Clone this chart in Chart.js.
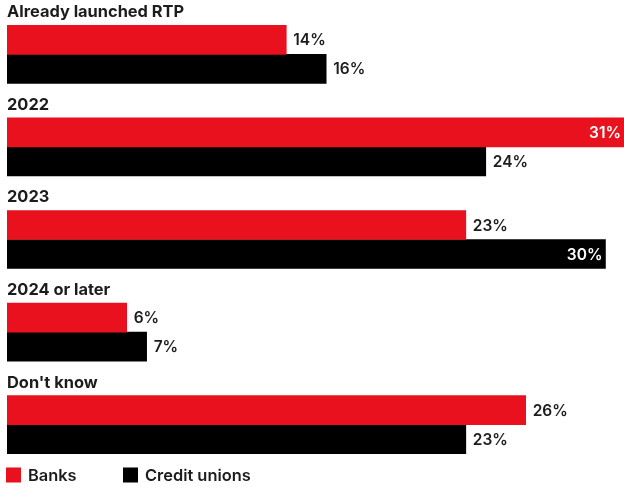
<!DOCTYPE html>
<html><head><meta charset="utf-8">
<script src="https://cdn.jsdelivr.net/npm/chart.js@4.4.0/dist/chart.umd.min.js"></script>
<style>html,body{margin:0;padding:0;background:#fff;}#wrap{width:624px;height:488px;position:relative;}</style>
</head><body><div id="wrap"><canvas id="c"></canvas></div>
<script>
const categories = ["Already launched RTP", "2022", "2023", "2024 or later", "Don't know"];
const banks = [14, 31, 23, 6, 26];
const creditUnions = [16, 24, 30, 7, 23];
const seriesNames = ["Banks", "Credit unions"];
const seriesColors = ["#E8111D", "#000000"];

const FONT = "Inter, 'Noto Sans', sans-serif";
const TEXT = "#1c1c1c";

const labelPlugin = {
  id: 'customLabels',
  afterDatasetsDraw(chart) {
    const ctx = chart.ctx, area = chart.chartArea;
    ctx.save();
    ctx.textBaseline = 'middle';
    const m0 = chart.getDatasetMeta(0);
    ctx.font = "700 16.4px " + FONT;
    ctx.fillStyle = TEXT;
    ctx.textAlign = 'left';
    m0.data.forEach((el, i) => {
      const top = el.y - el.height / 2;
      ctx.fillText(categories[i], area.left, top - 13);
    });
    ctx.font = "600 15.5px " + FONT;
    chart.data.datasets.forEach((ds, di) => {
      const meta = chart.getDatasetMeta(di);
      meta.data.forEach((el, i) => {
        const txt = ds.data[i] + '%';
        const w = ctx.measureText(txt).width;
        const end = Math.min(el.x, area.right);
        if (el.x + 7 + w > area.right) {
          ctx.fillStyle = '#ffffff';
          ctx.textAlign = 'right';
          ctx.fillText(txt, end - 3, el.y + 1);
        } else {
          ctx.fillStyle = TEXT;
          ctx.textAlign = 'left';
          ctx.fillText(txt, end + 7, el.y + 1);
        }
      });
    });
    ctx.restore();
  },
  afterDraw(chart) {
    const ctx = chart.ctx;
    ctx.save();
    ctx.textBaseline = 'middle';
    ctx.textAlign = 'left';
    ctx.font = "600 16.4px " + FONT;
    const y = 475;
    const starts = [6, 123];
    seriesNames.forEach((name, i) => {
      const x = starts[i];
      ctx.fillStyle = seriesColors[i];
      ctx.fillRect(x, y - 7.5, 15, 15);
      ctx.fillStyle = TEXT;
      ctx.fillText(name, x + 22, y + 1);
    });
    ctx.restore();
  }
};

new Chart(document.getElementById('c'), {
  type: 'bar',
  data: {
    labels: categories,
    datasets: [
      { label: seriesNames[0], data: banks, backgroundColor: seriesColors[0], barThickness: 29 },
      { label: seriesNames[1], data: creditUnions, backgroundColor: seriesColors[1], barThickness: 29 }
    ]
  },
  options: {
    indexAxis: 'y',
    responsive: true,
    maintainAspectRatio: false,
    animation: false,
    layout: { padding: { top: 8, bottom: 17, left: 7, right: 0 } },
    scales: {
      x: { display: false, min: 0, max: 30.93 },
      y: { display: false }
    },
    plugins: { legend: { display: false }, tooltip: { enabled: false } }
  },
  plugins: [labelPlugin]
});
</script>
</body></html>
